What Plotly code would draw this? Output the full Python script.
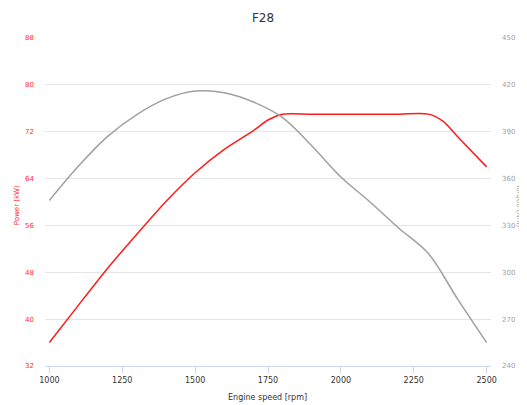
import plotly.graph_objects as go

rpm_power = [1000, 1100, 1200, 1300, 1400, 1500, 1600, 1700, 1750, 1800, 1900,
             2000, 2100, 2200, 2300, 2350, 2400, 2500]
power_kw = [36.0, 42.4, 48.7, 54.5, 60.1, 65.0, 69.0, 72.2, 74.0, 75.0, 75.0,
            75.0, 75.0, 75.0, 75.0, 73.8, 71.2, 66.0]
rpm_torque = [1000, 1100, 1200, 1300, 1400, 1500, 1600, 1700, 1800, 1900, 2000,
              2100, 2200, 2300, 2400, 2500]
torque_nm = [346, 368, 387, 401, 411, 416, 415, 409, 399, 381, 361,
             345, 328, 312, 283, 255]
x_ticks = [1000, 1250, 1500, 1750, 2000, 2250, 2500]

FONT = "DejaVu Sans"
OFF = 8  # page body margin
W, H = 527 - OFF, 405 - OFF
PL, PR, PT, PB = 45, 493, 38, 366  # plot area in page pixels
PW, PH = PR - PL, PB - PT

fig = go.Figure()
fig.add_trace(go.Scatter(x=rpm_torque, y=torque_nm, mode="lines", yaxis="y2",
                         line=dict(color="#a0a0a0", width=1.5, shape="spline", smoothing=1.0),
                         name="Torque", hoverinfo="x+y"))
fig.add_trace(go.Scatter(x=rpm_power, y=power_kw, mode="lines", yaxis="y",
                         line=dict(color="#ff1a1a", width=1.5, shape="spline", smoothing=0.8),
                         name="Power", hoverinfo="x+y"))

fig.update_layout(
    width=W, height=H,
    margin=dict(l=PL - OFF, r=527 - PR, t=PT - OFF, b=405 - PB),
    paper_bgcolor="white", plot_bgcolor="white",
    showlegend=False,
    font=dict(family=FONT),
    title=dict(text="F28", x=(263 - OFF) / W, xanchor="center",
               y=1 - (18 - OFF) / H, yanchor="middle",
               font=dict(size=12, color="#333333", family=FONT)),
    xaxis=dict(range=[985, 2515], tickvals=x_ticks, showgrid=False, zeroline=False,
               showline=True, linecolor="#ccd6eb", linewidth=1,
               ticks="outside", ticklen=6, tickcolor="#ccd6eb",
               tickfont=dict(size=8, color="#333333", family=FONT)),
    yaxis=dict(range=[32, 88], dtick=8, tick0=32, showgrid=True, gridcolor="#e6e6e6",
               zeroline=False, showline=False, ticks="",
               ticklabelstandoff=10,
               tickfont=dict(size=7, color="#ff2a2a", family=FONT)),
    yaxis2=dict(range=[240, 450], dtick=30, tick0=240, overlaying="y", side="right",
                showgrid=False, zeroline=False, showline=False, ticks="",
                ticklabelstandoff=10,
                tickfont=dict(size=7, color="#a0a0a0", family=FONT)),
    annotations=[
        dict(text="Power (kW)", xref="paper", yref="paper", x=(17 - PL) / PW,
             y=(PB - 205) / PH, xanchor="center", yanchor="middle", textangle=-90,
             showarrow=False, font=dict(size=7, color="#ff2a2a", family=FONT)),
        dict(text="Torque (Nm)", xref="paper", yref="paper", x=(521 - PL) / PW,
             y=(PB - 205) / PH, xanchor="center", yanchor="middle", textangle=90,
             showarrow=False, font=dict(size=7, color="#a0a0a0", family=FONT)),
        dict(text="Engine speed [rpm]", xref="paper", yref="paper", x=(268 - PL) / PW,
             y=(PB - 397) / PH, xanchor="center", yanchor="middle",
             showarrow=False, font=dict(size=8, color="#333333", family=FONT)),
    ],
)

fig.write_html("out.html")
